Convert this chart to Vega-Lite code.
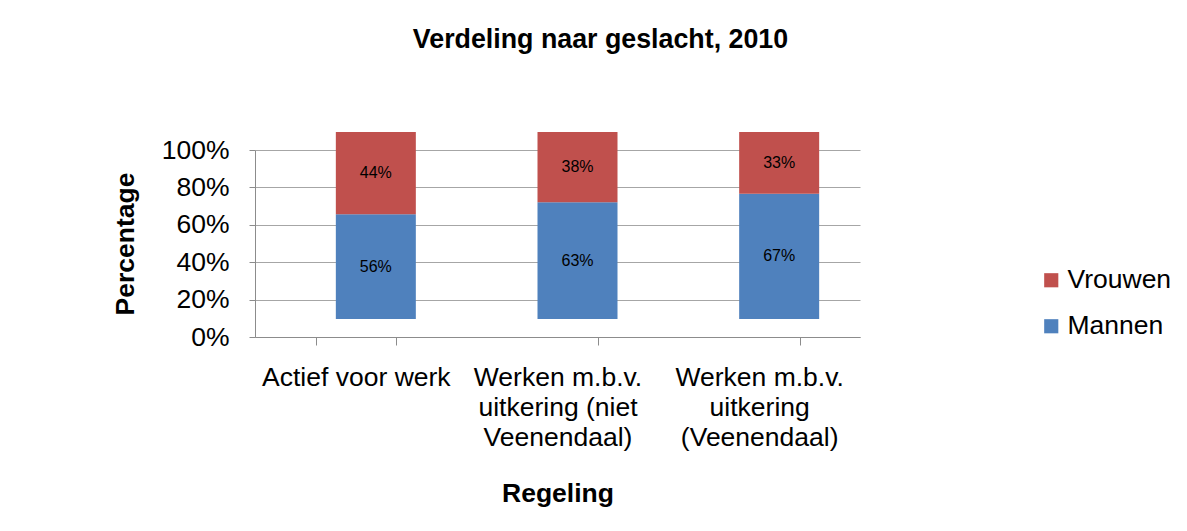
{
  "$schema": "https://vega.github.io/schema/vega-lite/v6.json",
  "width": 605,
  "height": 187,
  "autosize": "none",
  "padding": {"left": 255, "top": 150, "right": 327, "bottom": 194},
  "background": "white",
  "title": {
    "text": "Verdeling naar geslacht, 2010",
    "font": "Arial",
    "fontSize": 26.8,
    "fontWeight": "bold",
    "color": "black",
    "anchor": "middle",
    "dx": 43,
    "offset": 78
  },
  "data": {
    "values": [
      {"regeling": "Actief voor werk", "series": "Mannen", "value": 56},
      {"regeling": "Actief voor werk", "series": "Vrouwen", "value": 44},
      {"regeling": "Werken m.b.v.|uitkering (niet|Veenendaal)", "series": "Mannen", "value": 63},
      {"regeling": "Werken m.b.v.|uitkering (niet|Veenendaal)", "series": "Vrouwen", "value": 38},
      {"regeling": "Werken m.b.v.|uitkering|(Veenendaal)", "series": "Mannen", "value": 67},
      {"regeling": "Werken m.b.v.|uitkering|(Veenendaal)", "series": "Vrouwen", "value": 33}
    ]
  },
  "transform": [
    {"stack": "value", "groupby": ["regeling"], "offset": "normalize", "sort": [{"field": "series", "order": "ascending"}], "as": ["v0", "v1"]},
    {"calculate": "(datum.v0 + datum.v1) / 2", "as": "vmid"},
    {"calculate": "datum.value + '%'", "as": "lbl"}
  ],
  "encoding": {
    "x": {
      "field": "regeling",
      "type": "nominal",
      "sort": null,
      "scale": {"paddingInner": 0.6, "paddingOuter": 0.3},
      "axis": {
        "title": "Regeling",
        "titleFont": "Arial",
        "titleFontSize": 26.5,
        "titleFontWeight": "bold",
        "titleColor": "black",
        "titlePadding": 30,
        "labelExpr": "split(datum.label, '|')",
        "labelFont": "Arial",
        "labelFontSize": 26.5,
        "labelColor": "black",
        "labelAngle": 0,
        "labelPadding": 19,
        "labelLineHeight": 30,
        "labelLimit": 300,
        "labelOverlap": false,
        "domainColor": "#8c8c8c",
        "tickColor": "#8c8c8c",
        "tickSize": 8,
        "tickBand": "extent"
      }
    }
  },
  "layer": [
    {
      "mark": {"type": "bar", "size": 80, "xOffset": 20, "yOffset": -18, "y2Offset": -18},
      "encoding": {
        "y": {
          "field": "v0",
          "type": "quantitative",
          "scale": {"domain": [0, 1]},
          "axis": {
            "title": "Percentage",
            "titleFont": "Arial",
            "titleFontSize": 26.5,
            "titleFontWeight": "bold",
            "titleColor": "black",
            "titlePadding": 22,
            "values": [0, 0.2, 0.4, 0.6, 0.8, 1],
            "format": ".0%",
            "labelOverlap": false,
            "labelFont": "Arial",
            "labelFontSize": 26.5,
            "labelColor": "black",
            "labelPadding": 20,
            "grid": true,
            "gridColor": "#a6a6a6",
            "gridWidth": 1.2,
            "domainColor": "#8c8c8c",
            "tickColor": "#8c8c8c",
            "tickSize": 6
          }
        },
        "y2": {"field": "v1"},
        "color": {
          "field": "series",
          "type": "nominal",
          "scale": {"domain": ["Vrouwen", "Mannen"], "range": ["#C0504D", "#4F81BD"]},
          "legend": {
            "title": null,
            "orient": "none",
            "legendX": 783,
            "legendY": 117,
            "symbolType": "square",
            "symbolSize": 200,
            "symbolStrokeWidth": 0,
            "labelFont": "Arial",
            "labelFontSize": 26.5,
            "labelColor": "black",
            "rowPadding": 19,
            "labelOffset": 3
          }
        }
      }
    },
    {
      "mark": {"type": "text", "font": "Arial", "fontSize": 16, "color": "black", "xOffset": 20, "yOffset": -18},
      "encoding": {
        "y": {"field": "vmid", "type": "quantitative", "axis": null},
        "text": {"field": "lbl", "type": "nominal"},
        "detail": {"field": "series"}
      }
    }
  ],
  "resolve": {"axis": {"y": "independent"}},
  "config": {
    "view": {"stroke": null}
  }
}
